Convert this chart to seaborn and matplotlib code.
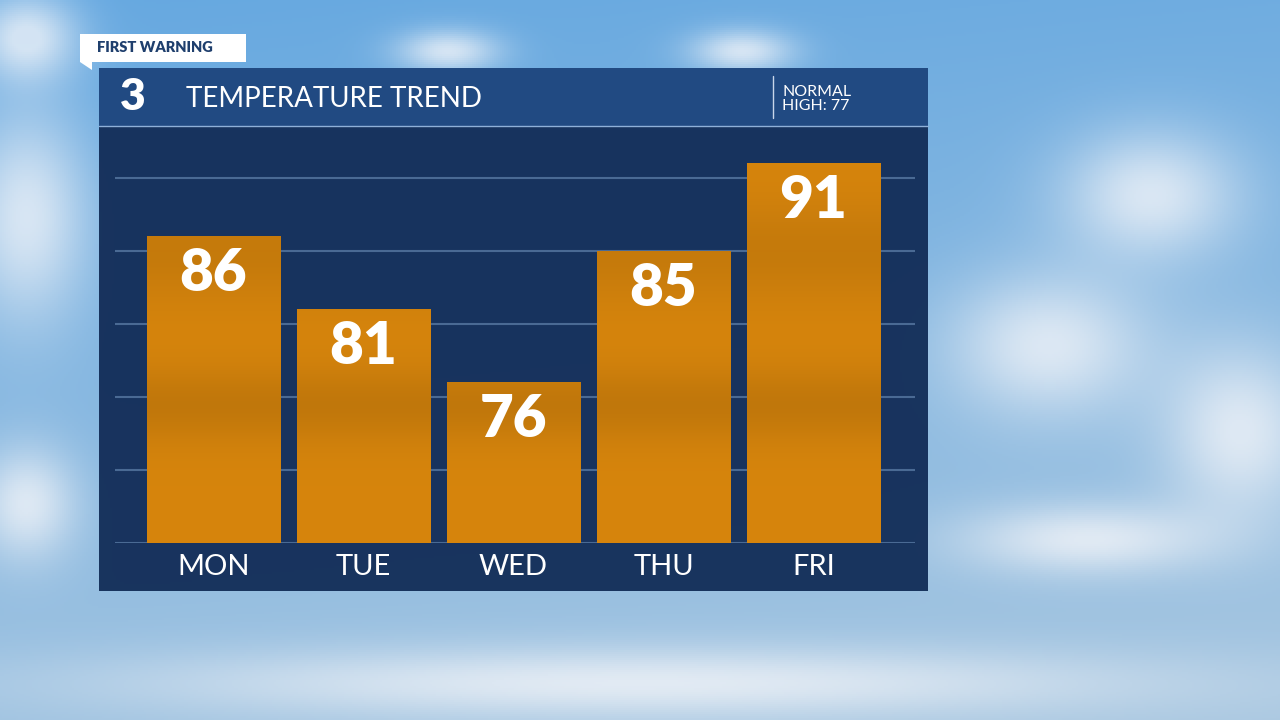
import numpy as np
import pandas as pd
import matplotlib.pyplot as plt
import matplotlib.patches as mpatches
import seaborn as sns

days = ["MON", "TUE", "WED", "THU", "FRI"]
highs = [86, 81, 76, 85, 91]
grid_levels = [65, 70, 75, 80, 85, 90]
title = "TEMPERATURE TREND"
normal_text = "NORMAL\nHIGH: 77"

sns.set_style("white")
plt.rcParams['font.family'] = ['Lato', 'DejaVu Sans']

W, H = 1280, 720
fig = plt.figure(figsize=(12.8, 7.2), dpi=100)

# sky background with soft cloud blobs
bg = fig.add_axes([0, 0, 1, 1])
yy = np.linspace(0, 1, 360)[:, None]
xx = np.linspace(0, 1, 640)[None, :]
top = np.array([0.40, 0.66, 0.88])
bot = np.array([0.66, 0.78, 0.88])
t = np.clip(yy * 0.85 + xx * 0.15, 0, 1)
sky = top * (1 - t[..., None]) + bot * t[..., None]
cloud = np.zeros((360, 640))
for cx, cy, rx, ry in [(0.9, 0.27, 0.07, 0.09), (0.82, 0.48, 0.08, 0.1), (0.97, 0.6, 0.06, 0.12),
                       (0.02, 0.3, 0.05, 0.15), (0.02, 0.7, 0.04, 0.08), (0.85, 0.75, 0.1, 0.05),
                       (0.35, 0.07, 0.04, 0.03), (0.58, 0.07, 0.04, 0.03), (0.02, 0.05, 0.04, 0.06),
                       (0.5, 0.95, 0.4, 0.05)]:
    cloud += np.exp(-(((xx - cx) / rx) ** 2 + ((yy - cy) / ry) ** 2))
cloud = np.clip(cloud, 0, 1)[..., None] * 0.75
sky = sky * (1 - cloud) + np.array([0.97, 0.97, 0.98]) * cloud
bg.imshow(sky, extent=[0, 1, 0, 1], aspect="auto", origin="upper")
bg.set_xlim(0, 1); bg.set_ylim(0, 1); bg.axis("off")

def fx(px): return px / W
def fy(py): return 1 - py / H

# panel
bg.add_patch(mpatches.Rectangle((fx(99), fy(591)), fx(928) - fx(99), fy(126) - fy(591),
                                color="#142f5a", alpha=0.97, lw=0))
bg.add_patch(mpatches.Rectangle((fx(99), fy(126)), fx(928) - fx(99), fy(68) - fy(126),
                                color="#214a82", lw=0))
bg.plot([fx(99), fx(928)], [fy(126), fy(126)], color="#8fb0d8", lw=1)
bg.plot([fx(773), fx(773)], [fy(76), fy(118)], color="#c8d6ea", lw=1)
bg.add_patch(mpatches.Rectangle((fx(80), fy(62)), fx(246) - fx(80), fy(34) - fy(62),
                                color="white", lw=0))
bg.add_patch(mpatches.Polygon([(fx(80), fy(62)), (fx(92), fy(62)), (fx(92), fy(70))],
                              color="white", lw=0))
bg.text(fx(97), fy(48), "FIRST WARNING", color="#1f3f6d", fontsize=10.5,
        fontweight="heavy", va="center")
bg.text(fx(120), fy(97), "3", color="white", fontsize=32, fontweight="heavy", va="center")
bg.text(fx(186), fy(99), title, color="white", fontsize=20, va="center")
bg.text(fx(782), fy(99), normal_text, color="white", fontsize=11.5, va="center", linespacing=1.05)

# chart
ax = fig.add_axes([fx(115), fy(543), fx(915) - fx(115), fy(126) - fy(543)])
df = pd.DataFrame({"day": days, "high": highs})
sns.barplot(data=df, x="day", y="high", ax=ax, color="#d9860c", width=0.887,
            saturation=1, zorder=3, linewidth=0, edgecolor="none")
ax.set_ylim(65, 65 + (543 - 126) / 14.6)
ax.set_xlim(-0.657, 4.677)
ax.patch.set_alpha(0)
for s in ax.spines.values():
    s.set_visible(False)
for g in grid_levels:
    ax.axhline(g, color="#4a6a94", lw=1.5, zorder=1)

# vertical gradient with darker bands on bars
gy = np.linspace(0, 1, 200)
shade = 1 - 0.1 * np.exp(-((gy - 0.33) / 0.09) ** 2) - 0.08 * np.exp(-((gy - 0.7) / 0.12) ** 2)
base = np.array([0.84, 0.52, 0.05])
grad = base[None, None, :] * shade[:, None, None]
grad = np.repeat(grad, 2, axis=1)
y0, y1 = ax.get_ylim()
for p in ax.patches:
    im = ax.imshow(grad, extent=[-1, 5, y0, y1], aspect="auto", origin="lower", zorder=3)
    im.set_clip_path(p)
ax.set_ylim(y0, y1); ax.set_xlim(-0.657, 4.677)

for i, v in enumerate(highs):
    ax.text(i, v - 0.75, str(v), ha="center", va="top", color="white",
            fontsize=42, fontweight="heavy", zorder=5)

ax.set_yticks([])
ax.set_xlabel(""); ax.set_ylabel("")
ax.tick_params(axis="x", length=0, pad=8, labelsize=21, labelcolor="white")

fig.savefig("out.png", dpi=100)
